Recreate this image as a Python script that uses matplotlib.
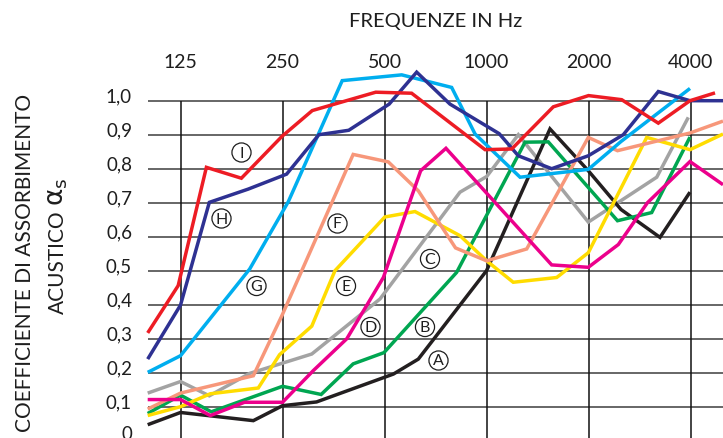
import matplotlib
matplotlib.use("Agg")
import matplotlib.pyplot as plt

# ---------------- data ----------------
x_title = "FREQUENZE IN Hz"
y_title_1 = "COEFFICIENTE DI ASSORBIMENTO"
y_title_2 = "ACUSTICO"
y_title_sym = "$\\mathrm{\\alpha}_{\\mathrm{s}}$"

octave_ticks = [125, 250, 500, 1000, 2000, 4000]
octave_labels = ["125", "250", "500", "1000", "2000", "4000"]
alpha_ticks = [0.0, 0.1, 0.2, 0.3, 0.4, 0.5, 0.6, 0.7, 0.8, 0.9, 1.0]
alpha_labels = ["0", "0,1", "0,2", "0,3", "0,4", "0,5", "0,6", "0,7", "0,8", "0,9", "1,0"]

a_freq = [100, 125, 205, 250, 315, 531, 629, 1000, 1539, 1997, 2494, 3250, 3985]
a_alpha = [0.047, 0.083, 0.059, 0.103, 0.114, 0.196, 0.24, 0.50, 0.917, 0.794, 0.68, 0.598, 0.731]

b_freq = [100, 125, 154, 250, 325, 404, 498, 816, 1299, 1521, 2435, 3072, 3985]
b_alpha = [0.08, 0.134, 0.085, 0.16, 0.136, 0.226, 0.259, 0.495, 0.878, 0.879, 0.647, 0.671, 0.893]

c_freq = [100, 125, 152, 200, 305, 485, 835, 1001, 1241, 1997, 3179, 3940]
c_alpha = [0.14, 0.174, 0.132, 0.198, 0.255, 0.417, 0.731, 0.777, 0.90, 0.643, 0.775, 0.951]

d_freq = [100, 125, 153, 193, 250, 308, 387, 496, 639, 759, 1557, 1997, 2449, 2985, 3985, 4988]
d_alpha = [0.121, 0.121, 0.074, 0.113, 0.113, 0.206, 0.30, 0.48, 0.794, 0.86, 0.517, 0.51, 0.577, 0.70, 0.821, 0.753]

e_freq = [100, 125, 153, 212, 245, 305, 357, 501, 615, 835, 1001, 1199, 1611, 1997, 2970, 3985, 4988]
e_alpha = [0.074, 0.10, 0.138, 0.155, 0.253, 0.337, 0.50, 0.658, 0.674, 0.603, 0.529, 0.466, 0.48, 0.553, 0.892, 0.856, 0.902]

f_freq = [100, 125, 205, 249, 404, 513, 629, 810, 1001, 1314, 1997, 2435, 3985, 4988]
f_alpha = [0.093, 0.14, 0.191, 0.368, 0.842, 0.82, 0.735, 0.567, 0.529, 0.564, 0.892, 0.853, 0.905, 0.94]

g_freq = [100, 125, 200, 260, 375, 562, 789, 925, 1256, 1997, 2494, 3985]
g_alpha = [0.201, 0.25, 0.505, 0.703, 1.059, 1.076, 1.039, 0.902, 0.775, 0.798, 0.88, 1.036]

h_freq = [100, 125, 152, 198, 257, 320, 392, 516, 622, 780, 1090, 1241, 1557, 1997, 2533, 3213, 3985, 4988]
h_alpha = [0.24, 0.399, 0.701, 0.74, 0.784, 0.90, 0.913, 0.99, 1.084, 0.99, 0.903, 0.838, 0.80, 0.838, 0.90, 1.027, 1.0, 1.0]

i_freq = [100, 123, 149, 189, 249, 306, 471, 601, 990, 1187, 1574, 2000, 2505, 3213, 3985, 4724]
i_alpha = [0.317, 0.456, 0.804, 0.772, 0.895, 0.971, 1.025, 1.022, 0.856, 0.858, 0.982, 1.015, 1.003, 0.934, 1.0, 1.023]

series_names = ["A", "B", "C", "D", "E", "F", "G", "H", "I"]

# ---------------- layout / style ----------------
W, H = 723, 439
PX_F100 = 147.7      # x pixel of 100 Hz
PX_OCT = 102.0       # pixels per octave
PY_ZERO = 441.7      # y pixel of alpha = 0
PY_UNIT = 340.0      # pixels per alpha = 1


def px2f(px):
    return 100.0 * 2 ** ((px - PX_F100) / PX_OCT)


def py2v(py):
    return (PY_ZERO - py) / PY_UNIT


colors = {
    "A": "#231f20", "B": "#00a651", "C": "#a3a3a3", "D": "#ec008c",
    "E": "#ffdc00", "F": "#f7977a", "G": "#00aeef", "H": "#2e3192",
    "I": "#ed1c24",
}
draw_order = ["C", "A", "B", "E", "F", "D", "G", "H", "I"]
label_px = {
    "I": (241.5, 153.5), "H": (221.5, 219.5), "F": (337.5, 224.5),
    "G": (256.5, 287), "E": (346, 287), "D": (370.5, 328),
    "C": (430, 260), "B": (425, 328), "A": (438.5, 361.5),
}
TXT = "#1e1e1e"

FONT = ["Lato", "DejaVu Sans"]
plt.rcParams["font.family"] = FONT
plt.rcParams["mathtext.fontset"] = "dejavusans"

fig = plt.figure(figsize=(W / 100, H / 100), dpi=100)
ax = fig.add_axes([0, 0, 1, 1])
ax.set_xscale("log")
ax.set_xlim(px2f(0), px2f(W))
ax.set_ylim(py2v(H), py2v(0))
ax.axis("off")

# grid
for v in alpha_ticks:
    ax.plot([100, 5000], [v, v], color="#5a5a5a", lw=1.3, zorder=1,
            solid_capstyle="butt")
for f in octave_ticks:
    ax.plot([f, f], [0, 1.0], color="#111111", lw=1.1, zorder=1,
            solid_capstyle="butt")

series = {
    "A": (a_freq, a_alpha), "B": (b_freq, b_alpha), "C": (c_freq, c_alpha),
    "D": (d_freq, d_alpha), "E": (e_freq, e_alpha), "F": (f_freq, f_alpha),
    "G": (g_freq, g_alpha), "H": (h_freq, h_alpha), "I": (i_freq, i_alpha),
}
for k, name in enumerate(draw_order):
    fr, al = series[name]
    ax.plot(fr, al, color=colors[name], lw=2.5, zorder=3 + k,
            solid_joinstyle="miter", solid_capstyle="butt", clip_on=False)

# circled letters
for name in series_names:
    px, py = label_px[name]
    ax.text(px2f(px), py2v(py), name, ha="center", va="center",
            fontsize=11.5, color=TXT, zorder=20,
            bbox=dict(boxstyle="circle,pad=0.16", fc="white", ec=TXT, lw=0.9))

# top frequency labels
for f, lab in zip(octave_ticks, octave_labels):
    ax.text(f, py2v(62), lab, ha="center", va="center", fontsize=14,
            color=TXT)
ax.text(px2f(436), py2v(21), x_title, ha="center", va="center",
        fontsize=14.5, color=TXT)

# left alpha labels
for v, lab in zip(alpha_ticks, alpha_labels):
    yy = py2v(PY_ZERO - PY_UNIT * v - 5) if v > 0 else py2v(PY_ZERO - 7)
    ax.text(px2f(132), yy, lab, ha="right", va="center", fontsize=13.5,
            color=TXT)

# y titles
ax.text(px2f(25), py2v(263), y_title_1, rotation=90, ha="center",
        va="center", fontsize=15, color=TXT)
ax.text(px2f(58), py2v(262), y_title_2, rotation=90, ha="center",
        va="center", fontsize=15, color=TXT)
ax.text(px2f(58), py2v(192), y_title_sym, rotation=90, ha="center",
        va="center", fontsize=19, color=TXT)

fig.savefig("out.png", dpi=100)
